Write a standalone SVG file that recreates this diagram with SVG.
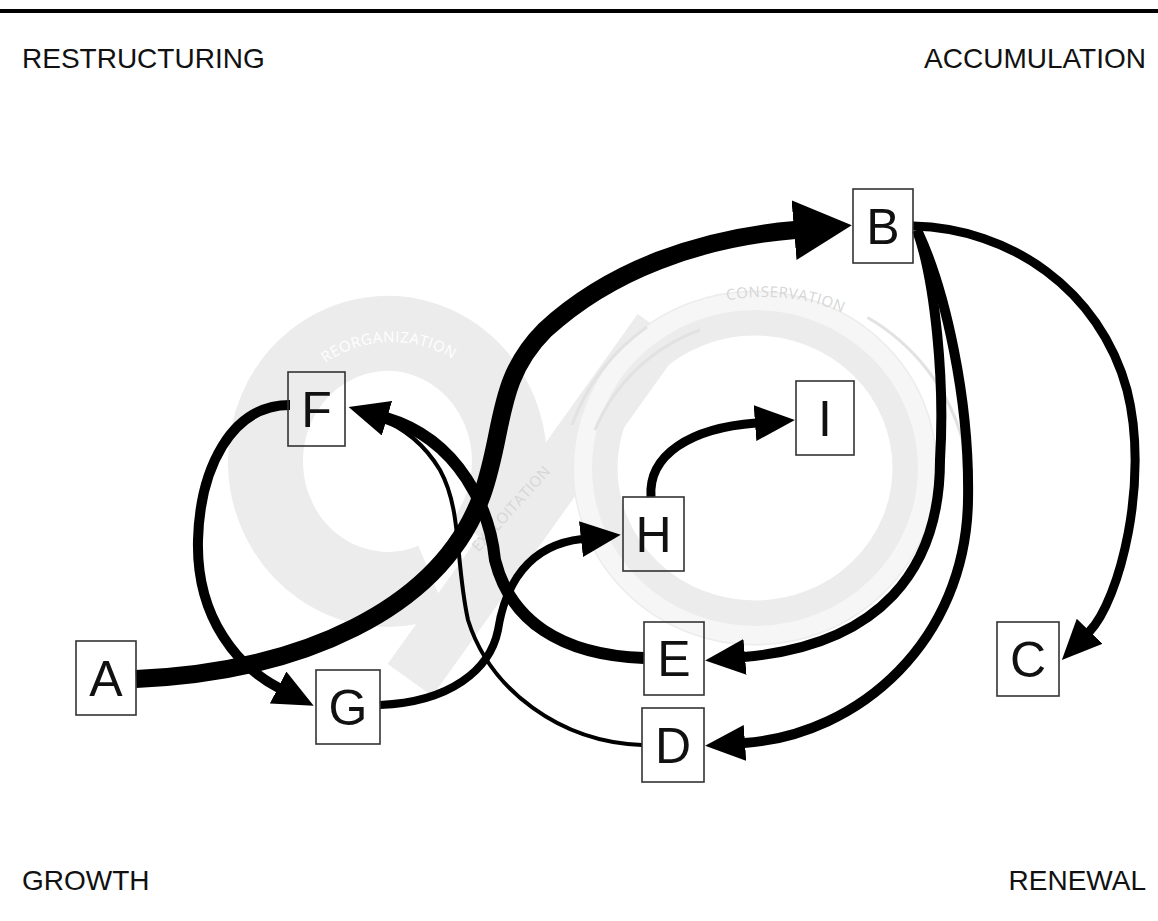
<svg xmlns="http://www.w3.org/2000/svg" width="1158" height="921" viewBox="0 0 1158 921">
  <style>
    .corner { font-family: "Liberation Sans", Arial, sans-serif; font-size: 28px; fill: #111; }
    .box { fill: none; stroke: #333; stroke-width: 1.6; }
    .lbl { font-family: "Liberation Sans", Arial, sans-serif; font-size: 50px; fill: #111; text-anchor: middle; }
    .edge { fill: none; stroke: #000; stroke-linecap: butt; }
    .band { fill: none; stroke: #ececec; }
    .thin { fill: none; stroke: #e2e2e2; stroke-width: 3; }
    .wm { font-family: "Open Sans", "DejaVu Sans", sans-serif; font-size: 15px; letter-spacing: 0.5px; }
  </style>
  <defs>
    <marker id="ah" viewBox="0 0 40 36" markerWidth="40" markerHeight="36" refX="1" refY="18" orient="auto" markerUnits="userSpaceOnUse">
      <path d="M0,0 L40,18 L0,36 z" fill="#000"/>
    </marker>
    <marker id="ahBig" viewBox="0 0 58 60" markerWidth="58" markerHeight="60" refX="1" refY="30" orient="auto" markerUnits="userSpaceOnUse">
      <path d="M0,0 L58,30 L0,60 z" fill="#000"/>
    </marker>
    <path id="arcReorg" d="M325.5,363 A116 116 0 0 1 480.9,383.4"/>
    <path id="arcCons" d="M727,300.6 A198 198 0 0 1 878.6,332.8"/>
  </defs>

  <rect x="0" y="0" width="1158" height="921" fill="#fff"/>
  <line x1="0" y1="11" x2="1158" y2="11" stroke="#000" stroke-width="4"/>

  <!-- faint adaptive-cycle watermark -->
  <g id="watermark">
    <path class="band" stroke-width="75" d="M432.8,580.2 A122 128 0 1 1 483.5,540.3"/>
    <path class="band" stroke="#f1f1f1" stroke-width="55" d="M410,680 L660,330"/>
    <ellipse class="band" cx="755" cy="468" rx="160" ry="155" stroke-width="45"/>
    <ellipse cx="755" cy="468" rx="172" ry="167" fill="none" stroke="#f6f6f6" stroke-width="18"/>
    <path class="thin" d="M572,425 A205 205 0 0 1 647,327"/>
    <path class="thin" d="M867.5,317.5 A205 205 0 0 1 963,442"/>
    <path class="thin" d="M595,430 A180 180 0 0 1 700,330"/>
    <text class="wm" fill="#ffffff"><textPath href="#arcReorg">REORGANIZATION</textPath></text>
    <text class="wm" fill="#d6d6d6" font-size="16"><textPath href="#arcCons">CONSERVATION</textPath></text>
    <text class="wm" fill="#d6d6d6" text-anchor="middle" transform="translate(515,512) rotate(-48)">EXPLOITATION</text>
  </g>

  <g id="corner-labels">
    <text class="corner" x="22" y="68">RESTRUCTURING</text>
    <text class="corner" x="1146" y="68" text-anchor="end">ACCUMULATION</text>
    <text class="corner" x="22" y="890">GROWTH</text>
    <text class="corner" x="1146" y="890" text-anchor="end">RENEWAL</text>
  </g>

  <g id="connectors">
    <path id="e-D-F" class="edge" stroke-width="4" d="M642,745 C560,742 490,690 468,620 C455,560 462,510 440,470 C425,445 405,428 378,418"/>
    <path id="e-E-F" class="edge" stroke-width="12" marker-end="url(#ah)" d="M644,658 C560,655 510,620 495,560 C490,510 460,440 386,418"/>
    <path id="e-F-G" class="edge" stroke-width="10" marker-end="url(#ah)" d="M290,405 C230,405 200,470 198,540 C196,620 240,668 279,688"/>
    <path id="e-G-H" class="edge" stroke-width="8" marker-end="url(#ah)" d="M380,705 C450,702 490,670 498,630 C505,585 528,545 582,539"/>
    <path id="e-H-I" class="edge" stroke-width="9" marker-end="url(#ah)" d="M651,497 C648,455 690,428 756,423"/>
    <path id="e-B-E" class="edge" stroke-width="10" marker-end="url(#ah)" d="M917,230 C935,280 945,380 940,460 C940,570 880,645 744,657"/>
    <path id="e-B-D" class="edge" stroke-width="10" marker-end="url(#ah)" d="M918,232 C945,290 970,400 968,500 C966,640 860,735 744,743"/>
    <path id="e-B-C" class="edge" stroke-width="9" marker-end="url(#ah)" d="M913,226 C1010,228 1100,290 1127,390 C1150,480 1120,600 1089,632"/>
    <path id="e-A-B" class="edge" stroke-width="18" marker-end="url(#ahBig)" d="M136,679 C300,672 440,610 482,495 C505,430 495,380 545,330 C610,270 700,238 795,230"/>
  </g>

  <g id="node-A"><rect class="box" x="76" y="641" width="60" height="74"/><text class="lbl" x="106" y="696">A</text></g>
  <g id="node-B"><rect class="box" x="853" y="189" width="60" height="74"/><text class="lbl" x="883" y="244">B</text></g>
  <g id="node-C"><rect class="box" x="997" y="622" width="62" height="74"/><text class="lbl" x="1028" y="677">C</text></g>
  <g id="node-D"><rect class="box" x="642" y="708" width="62" height="74"/><text class="lbl" x="673" y="763">D</text></g>
  <g id="node-E"><rect class="box" x="644" y="622" width="60" height="73"/><text class="lbl" x="674" y="676">E</text></g>
  <g id="node-F"><rect class="box" x="288" y="372" width="57" height="74"/><text class="lbl" x="316.5" y="427">F</text></g>
  <g id="node-G"><rect class="box" x="316" y="670" width="64" height="74"/><text class="lbl" x="348" y="725">G</text></g>
  <g id="node-H"><rect class="box" x="623" y="497" width="61" height="74"/><text class="lbl" x="653.5" y="552">H</text></g>
  <g id="node-I"><rect class="box" x="796" y="381" width="58" height="74"/><text class="lbl" x="825" y="436">I</text></g>
</svg>
